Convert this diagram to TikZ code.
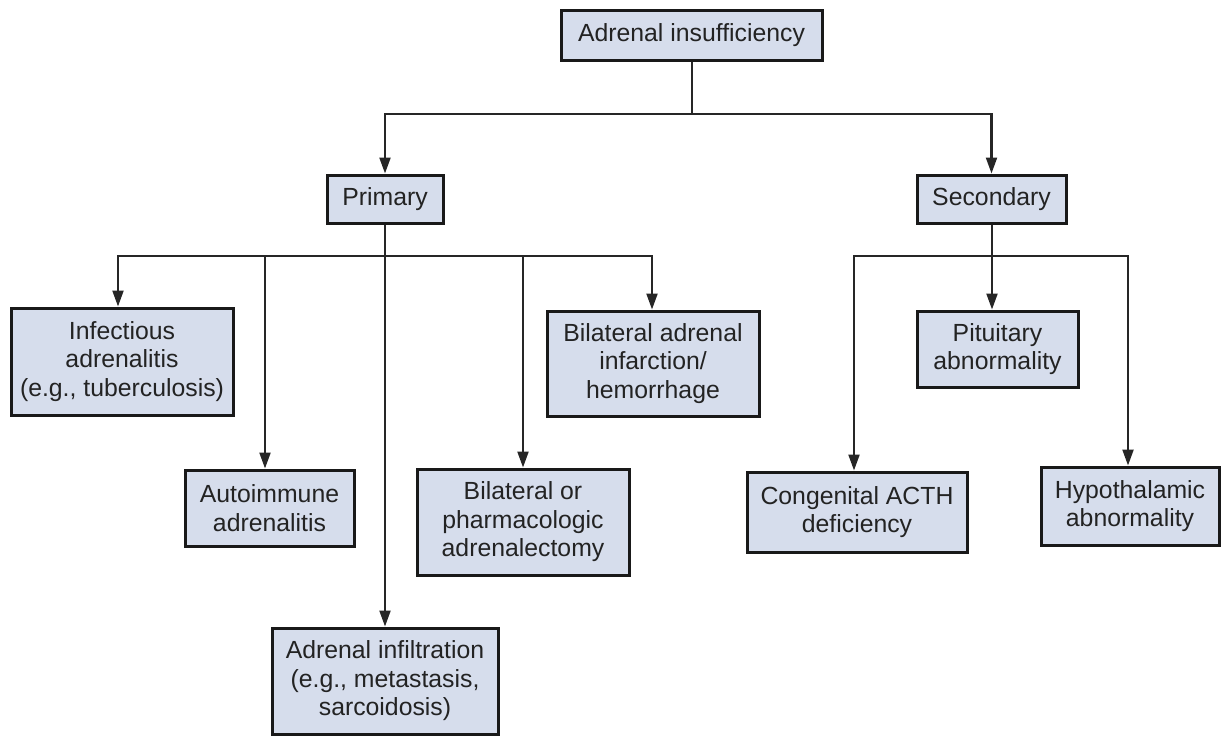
\documentclass[tikz,border=0pt]{standalone}
\usepackage{fontspec}
\setmainfont{Liberation Sans}
\usetikzlibrary{arrows.meta}
\definecolor{boxfill}{RGB}{214,221,236}
\definecolor{boxline}{RGB}{25,25,25}
\definecolor{txt}{RGB}{35,35,35}
\begin{document}
\begin{tikzpicture}[x=1pt,y=-1pt,
  box/.style={draw=boxline, line width=3pt, fill=boxfill, text=txt, inner sep=0pt,
    align=center, font=\fontsize{24.8}{28.5}\selectfont},
  conn/.style={draw=black!85, line width=2.2pt},
  arr/.style={conn, -{Triangle[length=16pt,width=11pt]}}]
\useasboundingbox (0,0) rectangle (1222,736);
\node[box, minimum width=261pt, minimum height=50pt] (top) at (691.5,35) {Adrenal insufficiency};
\node[box, minimum width=116pt, minimum height=48pt] (primary) at (385,199) {Primary};
\node[box, minimum width=149pt, minimum height=48pt] (secondary) at (991.5,199) {Secondary};
\node[box, minimum width=222pt, minimum height=107pt] (infectious) at (122,361.5) {Infectious\\adrenalitis\\(e.g., tuberculosis)};
\node[box, minimum width=169pt, minimum height=76pt] (autoimmune) at (269.5,508) {Autoimmune\\adrenalitis};
\node[box, minimum width=226pt, minimum height=106pt] (infiltration) at (385,681) {Adrenal infiltration\\(e.g., metastasis,\\sarcoidosis)};
\node[box, minimum width=212pt, minimum height=106pt] (bilor) at (523,522) {Bilateral or\\pharmacologic\\adrenalectomy};
\node[box, minimum width=212pt, minimum height=105pt] (infarct) at (653,363.5) {Bilateral adrenal\\infarction/\\hemorrhage};
\node[box, minimum width=161pt, minimum height=76pt] (pituitary) at (997.5,349) {Pituitary\\abnormality};
\node[box, minimum width=220pt, minimum height=80pt] (congenital) at (857,512) {Congenital ACTH\\deficiency};
\node[box, minimum width=178pt, minimum height=78pt] (hypo) at (1130,506) {Hypothalamic\\abnormality};
\coordinate (b1) at (692,114);
\coordinate (b2) at (385,256);
\coordinate (b3) at (992,256);
% top level
\draw[conn] (top.south -| b1) -- (b1);
\draw[arr] (b1) -| (primary.north);
\draw[arr] (b1) -| (secondary.north);
% primary
\draw[arr] (primary.south) -- (infiltration.north);
\draw[arr] (b2) -| ([xshift=-4pt]infectious.north);
\draw[arr] (b2) -| ([xshift=-4.5pt]autoimmune.north);
\draw[arr] (b2) -| (bilor.north);
\draw[arr] (b2) -| ([xshift=-1pt]infarct.north);
% secondary
\draw[arr] (secondary.south -| b3) -- (b3 |- pituitary.north);
\draw[arr] (b3) -| ([xshift=-3pt]congenital.north);
\draw[arr] (b3) -| ([xshift=-2pt]hypo.north);
\end{tikzpicture}
\end{document}
